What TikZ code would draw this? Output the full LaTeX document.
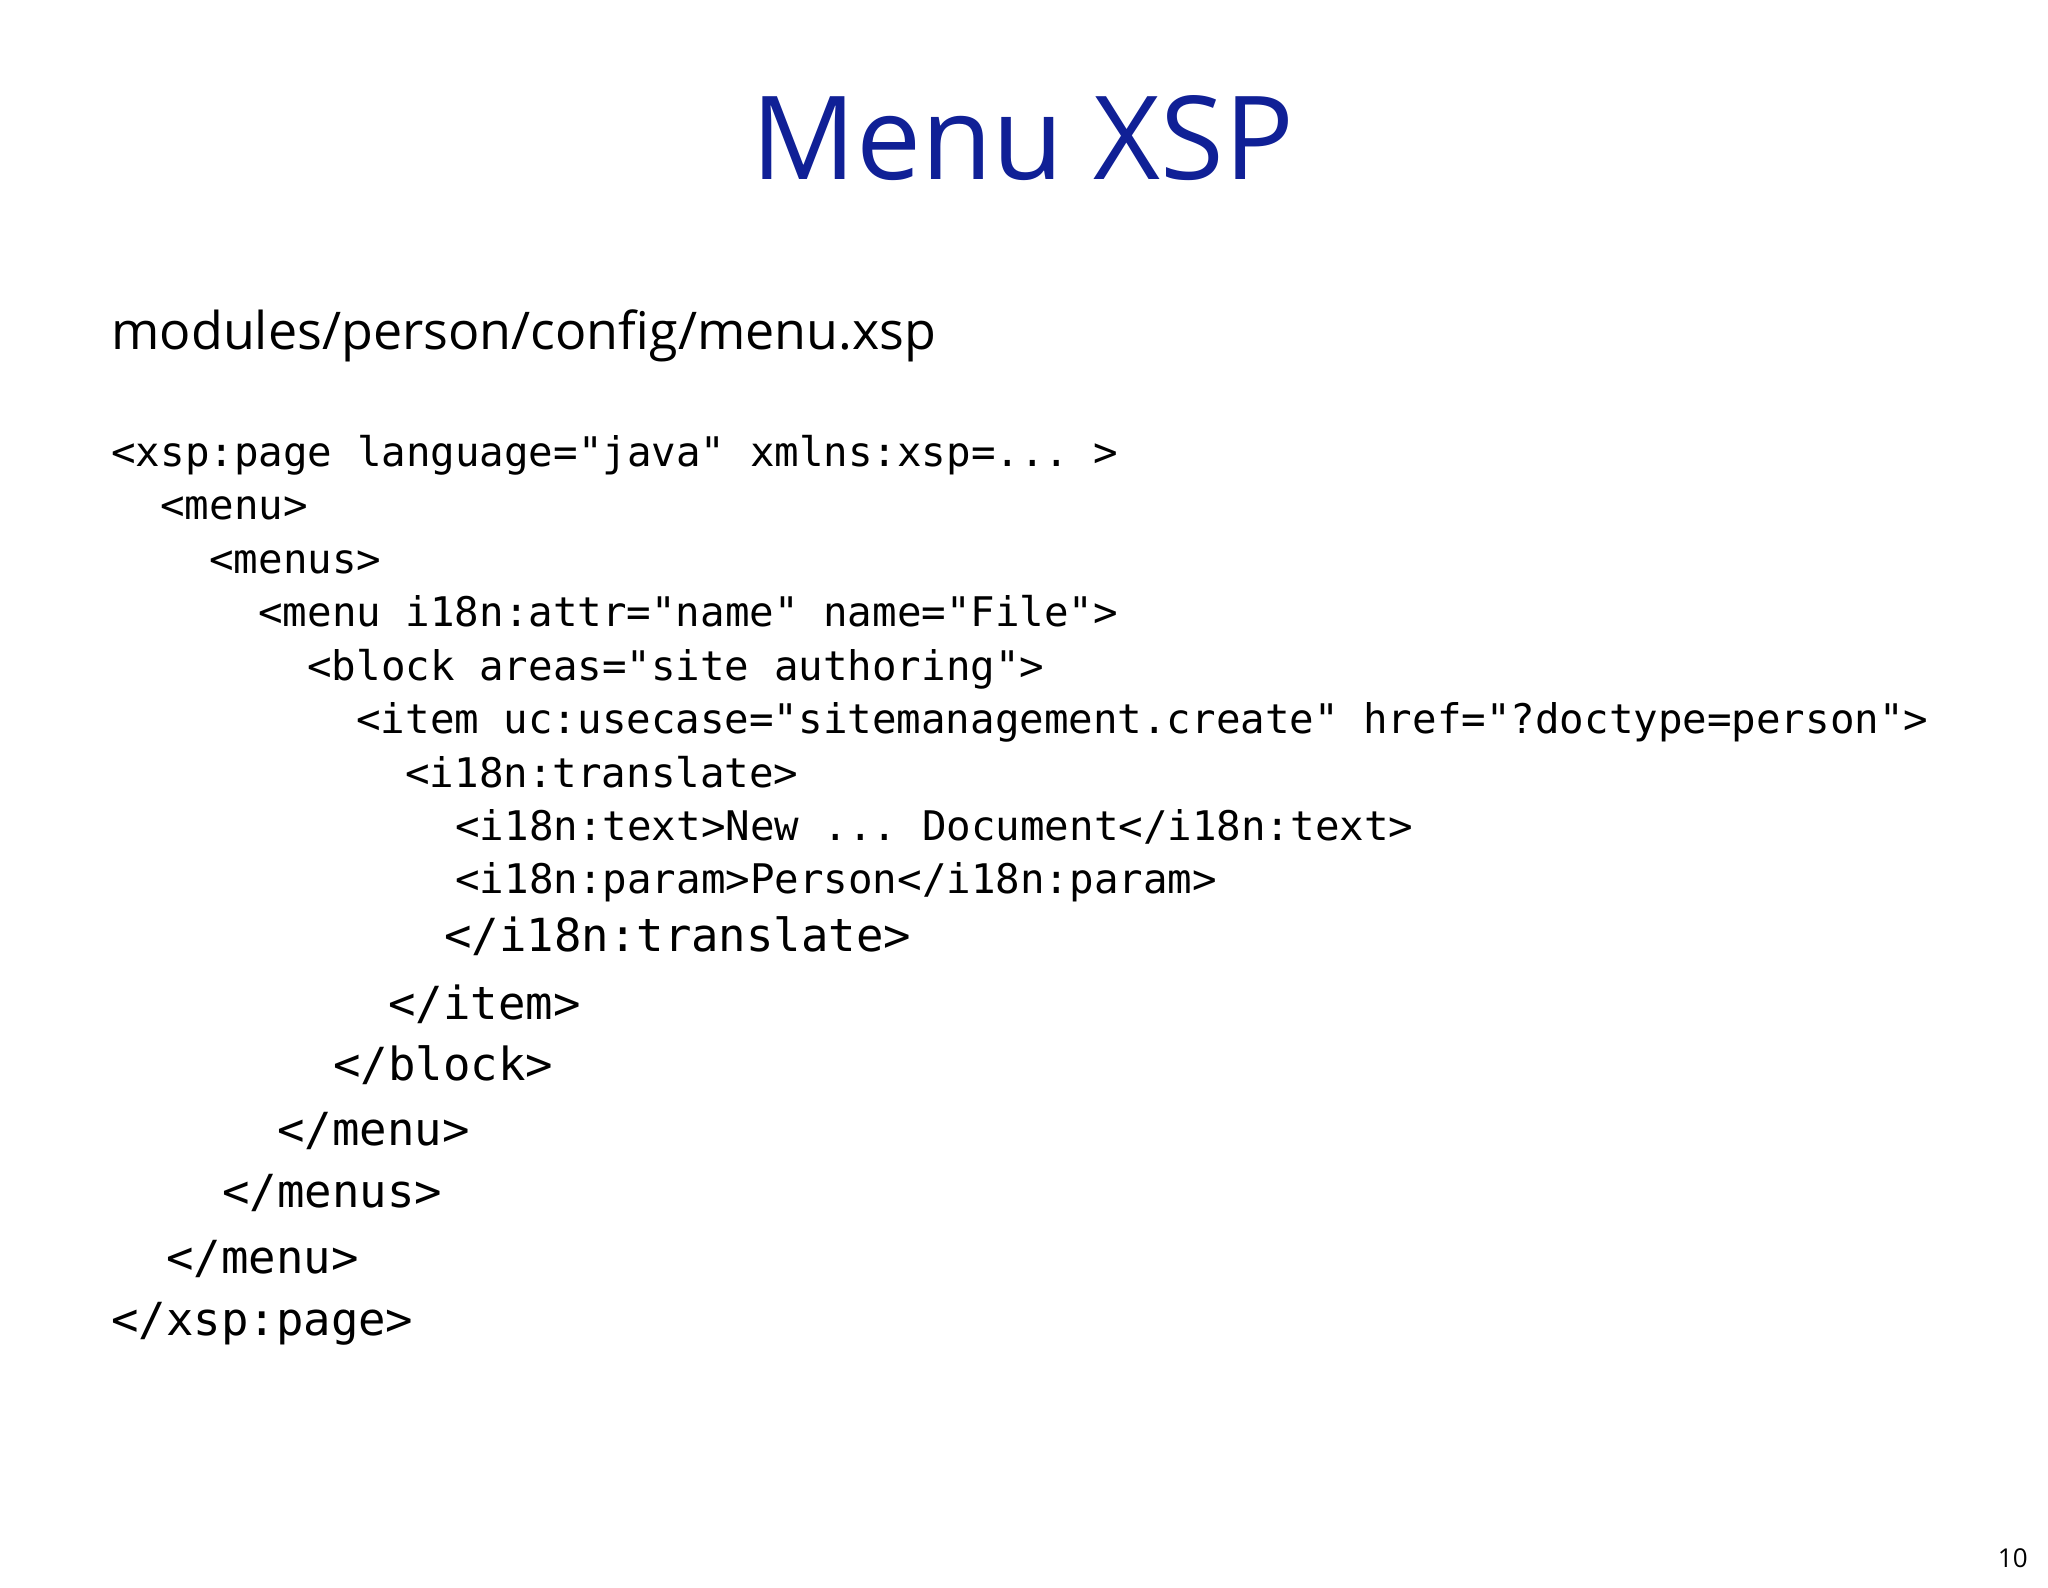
\documentclass[tikz,border=0pt]{standalone}
\usepackage{fontspec}
\setmainfont{Open Sans}
\setmonofont{DejaVu Sans Mono}
\definecolor{titleblue}{RGB}{16,32,150}
\begin{document}
\begin{tikzpicture}[x=0.5pt,y=-0.5pt]
\tikzset{code/.style={anchor=base west,inner sep=0pt,font=\fontsize{20.4pt}{24pt}\ttfamily},
 codeL/.style={anchor=base west,inner sep=0pt,font=\fontsize{22.8pt}{26pt}\ttfamily}}
\path[fill=white] (0,0) rectangle (2048,1587);
\node[anchor=base,inner sep=0pt,text=titleblue,font=\fontsize{58pt}{60pt}\selectfont] (title) at (1023,179) {Menu XSP};
\node[anchor=base west,inner sep=0pt,font=\fontsize{26pt}{30pt}\selectfont] (sub) at (111,349) {modules/person/config/menu.xsp};
\node[code] (l1) at (111,466) {<xsp:page language="java" xmlns:xsp=... >};
\node[code] (l2) at (160,519) {<menu>};
\node[code] (l3) at (209,573) {<menus>};
\node[code] (l4) at (258,626) {<menu i18n:attr="name" name="File">};
\node[code] (l5) at (307,680) {<block areas="site authoring">};
\node[code] (l6) at (356,733) {<item uc:usecase="sitemanagement.create" href="?doctype=person">};
\node[code] (l7) at (405,787) {<i18n:translate>};
\node[code] (l8) at (455,840) {<i18n:text>New ... Document</i18n:text>};
\node[code] (l9) at (455,893) {<i18n:param>Person</i18n:param>};
\node[codeL] (l10) at (444,951) {</i18n:translate>};
\node[codeL] (l11) at (388,1019) {</item>};
\node[codeL] (l12) at (333,1080) {</block>};
\node[codeL] (l13) at (277,1145) {</menu>};
\node[codeL] (l14) at (222,1207) {</menus>};
\node[codeL] (l15) at (166,1273) {</menu>};
\node[codeL] (l16) at (111,1335) {</xsp:page>};
\node[anchor=base east,inner sep=0pt,font=\fontsize{13pt}{15pt}\selectfont] (pg) at (2028,1567) {10};
\end{tikzpicture}
\end{document}
